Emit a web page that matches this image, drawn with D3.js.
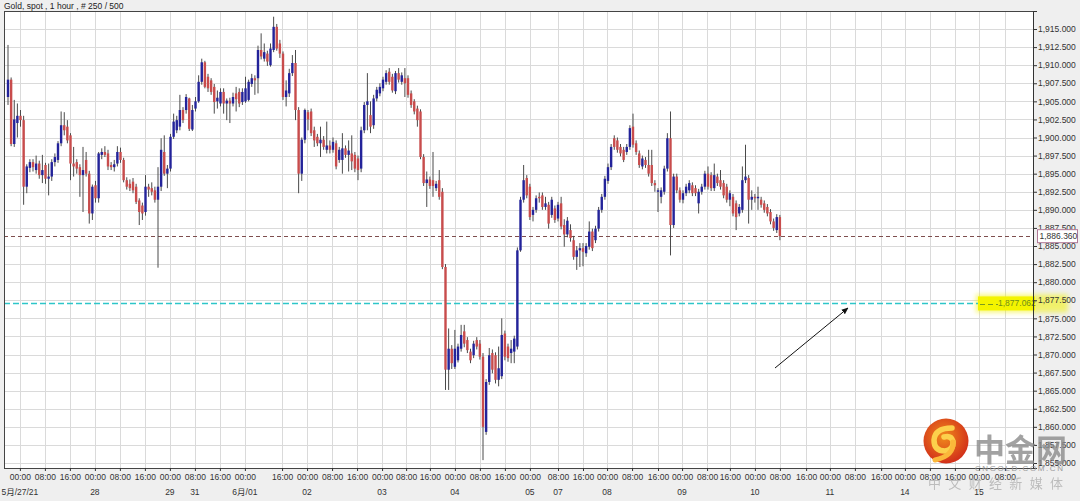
<!DOCTYPE html>
<html><head><meta charset="utf-8">
<script src="https://cdn.jsdelivr.net/npm/d3@7"></script>
<style>
body{margin:0;background:#efefef;}
svg{display:block;}
text{font-family:"Liberation Sans",Arial,"Noto Sans CJK SC",sans-serif;}
</style>
</head><body>
<svg id="chart" width="1080" height="501"></svg>
<script>
const title = "Gold, spot , 1 hour , # 250 / 500";

// hourly candles [open, high, low, close]
const ohlc = [
[1905.6,1912.8,1904.5,1908.0],[1908.0,1908.3,1898.8,1899.1],[1899.1,1905.2,1898.7,1902.5],[1902.0,1904.7,1900.0,1903.0],
[1903.0,1903.8,1901.5,1902.4],[1902.4,1903.0,1890.7,1893.2],[1893.2,1896.3,1892.3,1896.0],[1895.8,1897.0,1895.2,1896.6],
[1896.6,1897.0,1895.3,1895.9],[1895.5,1897.5,1895.0,1896.4],[1896.4,1896.8,1894.3,1894.8],[1894.8,1897.6,1893.7,1895.5],
[1896.2,1896.5,1893.6,1894.3],[1894.3,1896.4,1892.0,1894.6],[1894.6,1897.0,1894.0,1896.6],[1896.6,1897.8,1896.0,1897.3],
[1896.9,1899.5,1896.5,1899.2],[1899.2,1903.6,1898.8,1901.7],[1901.7,1903.5,1900.3,1901.0],[1901.5,1902.4,1899.2,1899.6],
[1900.3,1900.6,1894.1,1896.4],[1896.4,1898.7,1894.6,1896.0],[1896.6,1897.0,1895.0,1895.7],[1895.9,1896.3,1891.8,1894.8],
[1894.8,1898.7,1889.7,1895.5],[1896.9,1898.0,1894.6,1895.0],[1895.0,1895.4,1888.1,1889.5],[1889.5,1893.5,1888.6,1893.2],
[1893.4,1894.0,1891.0,1891.6],[1891.6,1898.0,1891.0,1897.8],[1897.6,1898.5,1897.0,1898.0],[1898.0,1898.8,1897.3,1897.6],
[1897.8,1898.3,1895.5,1896.0],[1896.2,1896.6,1895.5,1895.9],[1895.9,1896.9,1895.3,1896.3],[1896.4,1898.8,1896.0,1898.0],
[1898.0,1898.6,1896.5,1896.9],[1896.9,1897.2,1893.8,1894.1],[1894.1,1894.5,1892.8,1893.2],[1893.6,1894.2,1892.6,1893.0],
[1893.9,1894.4,1892.3,1892.7],[1893.2,1893.6,1890.8,1891.1],[1891.3,1891.6,1887.9,1889.7],[1890.6,1891.0,1888.6,1889.5],
[1889.7,1894.8,1889.2,1893.2],[1893.2,1893.6,1891.8,1892.8],[1893.0,1893.8,1892.0,1892.5],[1892.7,1893.2,1891.0,1891.4],
[1891.4,1895.9,1882.0,1893.2],[1893.2,1899.9,1892.6,1898.3],[1898.0,1900.3,1894.7,1895.0],[1895.0,1896.2,1893.0,1895.7],
[1895.7,1900.5,1895.3,1900.1],[1900.1,1903.3,1899.8,1902.2],[1901.0,1903.0,1900.6,1902.4],[1901.5,1905.9,1901.0,1903.8],
[1903.8,1904.2,1902.0,1902.4],[1903.8,1906.0,1903.3,1905.6],[1905.4,1905.5,1900.9,1901.2],[1901.1,1904.5,1900.9,1903.8],
[1904.0,1905.6,1903.6,1905.0],[1905.0,1908.6,1904.8,1907.7],[1907.7,1910.9,1907.3,1910.4],[1910.4,1910.6,1906.8,1907.0],
[1908.4,1908.8,1906.3,1906.8],[1907.9,1908.2,1905.9,1906.3],[1907.0,1907.4,1903.3,1904.9],[1905.0,1906.5,1904.0,1905.5],
[1904.7,1906.8,1904.3,1906.3],[1906.3,1906.8,1903.3,1904.7],[1904.7,1905.4,1902.4,1905.1],[1905.1,1905.5,1902.0,1904.7],
[1904.7,1906.2,1904.3,1905.6],[1906.1,1907.0,1903.6,1905.3],[1906.3,1906.8,1904.2,1904.7],[1904.9,1906.8,1904.5,1906.3],
[1905.0,1908.4,1904.8,1906.8],[1905.2,1908.0,1905.0,1907.7],[1907.4,1908.8,1907.0,1908.2],[1908.2,1908.6,1905.9,1907.9],
[1908.2,1912.7,1906.1,1912.1],[1912.1,1914.4,1910.8,1911.2],[1910.9,1913.0,1910.5,1911.8],[1911.6,1912.0,1909.9,1910.5],
[1910.0,1913.0,1909.8,1912.3],[1912.1,1916.7,1911.8,1915.3],[1915.3,1915.7,1912.0,1912.3],
[1913.0,1913.5,1911.0,1911.6],[1911.6,1911.9,1905.2,1905.6],[1905.6,1907.9,1904.3,1906.5],[1906.1,1909.5,1905.6,1908.9],
[1908.9,1911.4,1908.5,1910.3],[1910.3,1912.1,1902.4,1903.8],[1903.8,1904.2,1892.3,1895.0],[1895.0,1900.0,1894.0,1899.7],
[1899.7,1904.0,1899.2,1903.8],[1903.5,1903.8,1901.0,1902.5],[1903.6,1904.0,1900.2,1900.6],[1901.0,1901.5,1898.7,1899.6],
[1900.1,1900.5,1898.8,1899.2],[1899.2,1901.5,1897.3,1899.7],[1899.7,1900.2,1898.3,1898.7],[1898.3,1902.2,1897.8,1898.9],
[1898.9,1899.6,1897.8,1898.3],[1898.3,1900.0,1897.9,1899.4],[1899.2,1899.6,1895.6,1896.0],[1896.9,1898.7,1896.5,1898.3],
[1896.9,1900.6,1895.0,1898.5],[1898.5,1898.9,1897.2,1897.6],[1897.6,1899.6,1895.3,1898.2],[1897.8,1900.3,1895.5,1896.7],
[1897.6,1898.0,1895.2,1895.7],[1897.1,1897.5,1894.1,1895.5],[1895.7,1901.5,1895.2,1901.0],[1901.0,1904.9,1900.6,1904.5],
[1904.5,1908.9,1901.0,1905.0],[1903.1,1905.0,1900.6,1901.5],[1901.7,1905.9,1901.2,1905.4],[1905.4,1907.0,1905.0,1906.6],
[1906.1,1907.5,1905.7,1907.0],[1906.8,1908.4,1906.4,1908.0],[1907.7,1909.3,1907.3,1908.9],[1909.1,1909.6,1907.3,1907.7],
[1908.4,1908.8,1906.2,1906.5],[1906.4,1909.2,1906.0,1908.9],[1908.9,1909.6,1907.6,1908.0],[1907.7,1909.0,1907.3,1908.6],
[1908.2,1909.6,1905.6,1907.5],[1908.2,1908.6,1905.5,1905.9],[1906.1,1906.5,1904.1,1904.5],[1905.0,1905.3,1903.2,1903.6],
[1904.0,1904.4,1901.5,1902.4],[1903.6,1903.9,1897.0,1897.3],[1897.3,1897.7,1893.3,1893.7],[1893.7,1895.3,1890.4,1894.2],
[1894.2,1894.6,1892.9,1893.3],[1894.1,1898.0,1891.8,1893.3],[1893.0,1894.0,1892.6,1893.6],[1894.1,1895.5,1891.4,1891.8],
[1892.5,1893.0,1881.8,1882.1],[1882.1,1882.5,1865.1,1867.9],[1867.9,1873.6,1865.1,1870.8],[1870.8,1871.3,1868.0,1868.8],
[1868.3,1873.4,1868.0,1870.8],[1869.2,1871.5,1868.9,1871.1],[1870.8,1874.1,1870.4,1872.7],[1873.2,1874.1,1871.0,1871.5],
[1872.0,1872.4,1870.2,1870.6],[1870.4,1870.8,1868.8,1869.2],[1869.9,1871.9,1869.5,1871.5],[1872.0,1872.4,1870.7,1871.1],
[1871.5,1872.0,1869.3,1869.7],[1869.7,1870.2,1855.4,1860.0],[1859.3,1866.6,1858.9,1866.2],[1866.2,1870.9,1865.8,1869.9],
[1870.2,1870.7,1867.4,1867.9],[1869.9,1870.3,1866.0,1866.5],[1866.5,1871.1,1865.6,1868.1],[1867.0,1875.0,1866.6,1872.7],
[1872.9,1873.3,1869.2,1869.7],[1871.1,1871.5,1869.0,1869.5],[1870.2,1872.0,1868.8,1870.8],[1870.4,1872.6,1868.8,1872.2],
[1871.1,1884.8,1870.7,1884.4],[1884.4,1891.8,1884.2,1891.4],[1891.4,1896.2,1891.0,1894.1],[1894.4,1894.8,1891.6,1892.0],
[1893.2,1893.6,1888.6,1889.0],[1889.3,1890.4,1888.4,1890.0],[1890.0,1892.0,1889.6,1891.6],[1891.8,1892.4,1891.0,1891.6],
[1892.0,1892.4,1890.0,1890.4],[1890.4,1891.8,1890.0,1890.9],[1890.7,1891.1,1887.4,1888.1],[1889.3,1891.8,1888.9,1891.4],
[1890.2,1890.6,1888.2,1888.6],[1888.8,1891.1,1888.4,1890.7],
[1890.9,1891.8,1887.3,1887.7],[1887.9,1888.7,1884.9,1886.6],[1886.6,1889.0,1886.2,1888.5],[1887.2,1888.0,1885.6,1886.1],
[1885.8,1886.4,1883.1,1883.5],[1883.5,1885.0,1881.7,1884.4],[1884.4,1885.4,1882.1,1884.7],[1884.7,1885.4,1882.2,1884.2],
[1884.0,1885.4,1883.5,1885.0],[1884.9,1888.4,1884.5,1887.0],[1887.0,1887.4,1884.3,1884.7],[1885.8,1887.8,1885.4,1887.4],
[1887.4,1890.4,1887.0,1890.0],[1890.0,1892.2,1889.6,1891.8],[1891.8,1894.7,1891.4,1894.3],[1894.0,1896.4,1893.6,1895.9],
[1895.9,1899.1,1895.5,1898.7],[1899.9,1900.3,1898.3,1898.7],[1899.6,1900.0,1897.9,1898.3],[1898.7,1899.1,1897.4,1897.8],
[1898.3,1898.7,1896.6,1896.9],[1898.0,1899.1,1897.6,1898.7],[1898.7,1901.7,1898.3,1901.3],[1901.5,1903.3,1898.6,1899.0],
[1899.2,1899.6,1897.6,1898.0],[1897.8,1898.2,1895.8,1896.2],[1896.0,1897.5,1895.6,1897.1],[1896.9,1897.3,1895.8,1896.2],
[1896.2,1898.3,1894.6,1895.0],[1896.2,1898.3,1893.3,1893.7],[1893.7,1894.1,1892.5,1893.4],[1892.5,1893.0,1889.7,1892.7],
[1891.8,1893.1,1890.9,1892.7],[1892.5,1896.1,1892.1,1895.7],[1895.7,1900.6,1895.3,1899.9],[1899.9,1903.6,1883.7,1887.9],
[1887.9,1895.0,1887.5,1894.6],[1894.6,1895.0,1892.3,1892.7],[1892.7,1893.1,1891.0,1891.4],[1891.4,1892.7,1890.9,1892.3],
[1892.3,1893.6,1891.9,1893.2],[1892.7,1894.1,1892.3,1893.7],[1893.4,1893.8,1891.9,1892.3],[1893.0,1893.4,1891.9,1892.3],
[1890.9,1892.9,1889.5,1892.5],[1892.5,1893.6,1892.1,1893.2],[1893.2,1895.4,1892.8,1895.0],[1895.0,1896.0,1892.8,1893.2],
[1894.8,1895.2,1892.6,1893.0],[1893.0,1896.4,1892.6,1894.8],[1894.6,1895.0,1893.3,1893.7],[1894.1,1895.5,1892.8,1893.2],
[1893.7,1894.1,1891.6,1892.0],[1893.2,1893.6,1891.0,1891.4],[1891.4,1892.7,1890.5,1892.3],[1891.8,1892.2,1889.1,1889.5],
[1890.9,1891.3,1887.2,1889.0],[1889.5,1890.8,1889.1,1890.4],[1890.0,1896.0,1889.6,1894.1],[1894.1,1899.0,1893.7,1894.6],
[1894.4,1894.8,1888.1,1891.4],[1891.4,1892.7,1890.0,1891.8],[1891.8,1892.2,1891.0,1891.6],[1891.6,1893.2,1890.0,1891.8],
[1891.4,1891.8,1890.3,1890.7],[1890.9,1891.3,1889.6,1890.0],[1890.4,1890.8,1889.1,1889.5],[1889.7,1890.1,1888.0,1888.4],
[1888.4,1888.8,1887.1,1887.5],[1887.2,1889.4,1886.8,1889.0],[1889.0,1889.3,1885.8,1886.36]
];

const priceTicks = [1855,1857.5,1860,1862.5,1865,1867.5,1870,1872.5,1875,1877.5,1880,1882.5,1885,
  1887.5,1890,1892.5,1895,1897.5,1900,1902.5,1905,1907.5,1910,1912.5,1915];

// bar-slot position of each time tick (hours on the compressed trading axis)
const timeTickSlots = [3.8,11.8,19.8,27.8,35.8,43.8,51.8,59.8,67.8,75.8,87.7,95.7,103.7,111.7,119.7,127.4,
  135.0,143.0,151.0,159.0,167.0,176.0,184.0,191.7,199.7,208.0,215.7,223.7,231.0,239.0,247.0,255.4,
  263.0,271.0,279.4,287.0,295.0,303.0,310.7,319.0];
const timeTickLabels = ["00:00","08:00","16:00","00:00","08:00","16:00","00:00","08:00","16:00","00:00",
  "16:00","00:00","08:00","16:00","00:00","08:00","16:00","00:00","08:00","16:00","00:00","08:00","16:00",
  "00:00","08:00","16:00","00:00","08:00","16:00","00:00","08:00","16:00","00:00","08:00","16:00","00:00",
  "08:00","16:00","00:00","08:00"];
const dayTickIndex = [0,3,6,7,9,11,14,17,20,21,23,26,29,32,35,38];
const dayLabels = ["5月/27/21","28","29","31","6月/01","02","03","04","05","07","08","09","10","11","14","15"];

const lastPrice = 1886.36;
const markedLevel = 1877.062;

const svg = d3.select("#chart");
const L = 4, R = 1033, T = 11, B = 468;

const x = d3.scaleLinear().domain([-1.28, 328]).range([L, R]);
const y = d3.scaleLinear().domain([1854.31, 1917.49]).range([B, T]);

svg.append("rect").attr("width",1080).attr("height",501).attr("fill","#efefef");
svg.append("rect").attr("x",L).attr("y",T).attr("width",R-L).attr("height",B-T).attr("fill","#ffffff");

// title
svg.append("text").attr("x",4).attr("y",8.5).attr("font-size",8.5).attr("fill","#222").text(title);

// grid
const grid = svg.append("g").attr("shape-rendering","crispEdges");
grid.selectAll(".vg").data(timeTickSlots).join("line")
  .attr("x1",d=>Math.round(x(d))+0.5).attr("x2",d=>Math.round(x(d))+0.5)
  .attr("y1",T).attr("y2",B).attr("stroke","#dadada");
grid.selectAll(".hg").data(priceTicks).join("line")
  .attr("x1",L).attr("x2",R)
  .attr("y1",d=>Math.round(y(d))+0.5).attr("y2",d=>Math.round(y(d))+0.5).attr("stroke","#dadada");

// last-price dashed line
svg.append("line").attr("x1",L).attr("x2",R).attr("y1",Math.round(y(lastPrice))+0.5).attr("y2",Math.round(y(lastPrice))+0.5)
  .attr("stroke","#7e4e4e").attr("stroke-width",1).attr("stroke-dasharray","4,3");

// yellow highlight behind marked level label
const defs = svg.append("defs");
defs.append("filter").attr("id","glow").attr("x","-20%").attr("y","-50%").attr("width","140%").attr("height","200%")
  .append("feGaussianBlur").attr("stdDeviation",2.5);
svg.append("rect").attr("x",976).attr("y",y(markedLevel)-9).attr("width",92).attr("height",18)
  .attr("fill","#f2f200").attr("opacity",0.55).attr("filter","url(#glow)");
svg.append("rect").attr("x",978).attr("y",y(markedLevel)-7).attr("width",57).attr("height",14)
  .attr("fill","#f4f400");

// marked level dashed line
const my = Math.round(y(markedLevel))+0.5;
svg.append("line").attr("x1",L).attr("x2",978).attr("y1",my).attr("y2",my)
  .attr("stroke","#2ec6c9").attr("stroke-width",1.5).attr("stroke-dasharray","6,3");
svg.append("line").attr("x1",980).attr("x2",998).attr("y1",my+1).attr("y2",my+1)
  .attr("stroke","#7a9a20").attr("stroke-width",1).attr("stroke-dasharray","5,3");
svg.append("text").attr("x",998).attr("y",y(markedLevel)).attr("dy","0.35em").attr("font-size",8.5)
  .attr("fill","#6f8f1a").text(d3.format(",.3f")(markedLevel));

// candles
const cg = svg.append("g");
const bw = 2.4;
cg.selectAll(".wick").data(ohlc).join("line")
  .attr("x1",(d,i)=>x(i)).attr("x2",(d,i)=>x(i))
  .attr("y1",d=>y(d[1])).attr("y2",d=>y(d[2]))
  .attr("stroke","#4a4a4a").attr("stroke-width",1);
cg.selectAll(".body").data(ohlc).join("rect")
  .attr("x",(d,i)=>x(i)-bw/2).attr("width",bw)
  .attr("y",d=>y(Math.max(d[0],d[3])))
  .attr("height",d=>Math.max(1,Math.abs(y(d[0])-y(d[3]))))
  .attr("fill",d=>d[3]>=d[0] ? "#23239a" : "#c84c4c");

// frame
svg.append("rect").attr("x",L+0.5).attr("y",T+0.5).attr("width",R-L).attr("height",B-T)
  .attr("fill","none").attr("stroke","#444").attr("shape-rendering","crispEdges");

// right axis
const ra = svg.append("g").attr("transform",`translate(${R},0)`)
  .call(d3.axisRight(y).tickValues(priceTicks).tickFormat(d3.format(",.3f")).tickSize(4).tickPadding(1));
ra.select(".domain").attr("stroke","#333");
ra.selectAll(".tick line").attr("stroke","#333");
ra.selectAll("text").attr("font-size",8.5).attr("fill","#333").attr("font-family","Liberation Sans, Arial, sans-serif");

// last price box
svg.append("rect").attr("x",1037.5).attr("y",y(lastPrice)-6.5).attr("width",40).attr("height",13)
  .attr("fill","#ffffff").attr("stroke","#b07896");
svg.append("text").attr("x",1039.5).attr("y",y(lastPrice)).attr("dy","0.35em").attr("font-size",8.5)
  .attr("fill","#333").text(d3.format(",.3f")(lastPrice));

// bottom axis
const ba = svg.append("g").attr("transform",`translate(0,${B})`)
  .call(d3.axisBottom(x).tickValues(timeTickSlots).tickFormat((d,i)=>timeTickLabels[i]).tickSize(3).tickPadding(3));
ba.select(".domain").remove();
ba.selectAll(".tick line").attr("stroke","#333");
ba.selectAll("text").attr("font-size",8.5).attr("fill","#333").attr("font-family","Liberation Sans, Arial, sans-serif");

svg.append("g").selectAll("text").data(dayTickIndex).join("text")
  .attr("x",d=>x(timeTickSlots[d])).attr("y",495).attr("text-anchor","middle")
  .attr("font-size",8.5).attr("fill","#333")
  .text((d,i)=>dayLabels[i]);

// arrow annotation
defs.append("marker").attr("id","ah").attr("viewBox","0 0 10 10").attr("refX",9).attr("refY",5)
  .attr("markerWidth",7).attr("markerHeight",7).attr("orient","auto")
  .append("path").attr("d","M0,1 L10,5 L0,9 Z").attr("fill","#111");
svg.append("line").attr("x1",775).attr("y1",368).attr("x2",848).attr("y2",308)
  .attr("stroke","#111").attr("stroke-width",1).attr("marker-end","url(#ah)");

// watermark
const rg = defs.append("radialGradient").attr("id","logo").attr("cx","45%").attr("cy","40%").attr("r","60%");
rg.append("stop").attr("offset","0%").attr("stop-color","#f08a1c");
rg.append("stop").attr("offset","100%").attr("stop-color","#d2301a");
const wm = svg.append("g");
wm.append("circle").attr("cx",946).attr("cy",441).attr("r",22.5).attr("fill","url(#logo)");
wm.append("path").attr("d","M952,428 Q935,428 934,440 Q934,451 945,451 Q954,450 953,441 Q951,435 944,437")
  .attr("fill","none").attr("stroke","#fcd04c").attr("stroke-width",5.5).attr("stroke-linecap","round");
wm.append("path").attr("d","M953,442 Q954,456 935,460")
  .attr("fill","none").attr("stroke","#fbb83a").attr("stroke-width",5).attr("stroke-linecap","round");
wm.append("text").attr("x",974).attr("y",461).attr("font-size",31).attr("font-weight","bold")
  .attr("font-family","Noto Sans CJK SC, sans-serif").attr("fill","#8c8c8c").attr("opacity",0.8).text("中金网");
wm.append("text").attr("x",975).attr("y",471).attr("font-size",8).attr("fill","#9a9a9a")
  .attr("textLength",88).attr("lengthAdjust","spacing").text("CNGOLD.COM.CN");
wm.append("text").attr("x",928).attr("y",488).attr("font-size",13)
  .attr("font-family","Noto Sans CJK SC, sans-serif").attr("fill","#b4b4b4").attr("opacity",0.85)
  .attr("textLength",135).attr("lengthAdjust","spacing").text("中 文 财 经 新 媒 体");
</script>
</body></html>
